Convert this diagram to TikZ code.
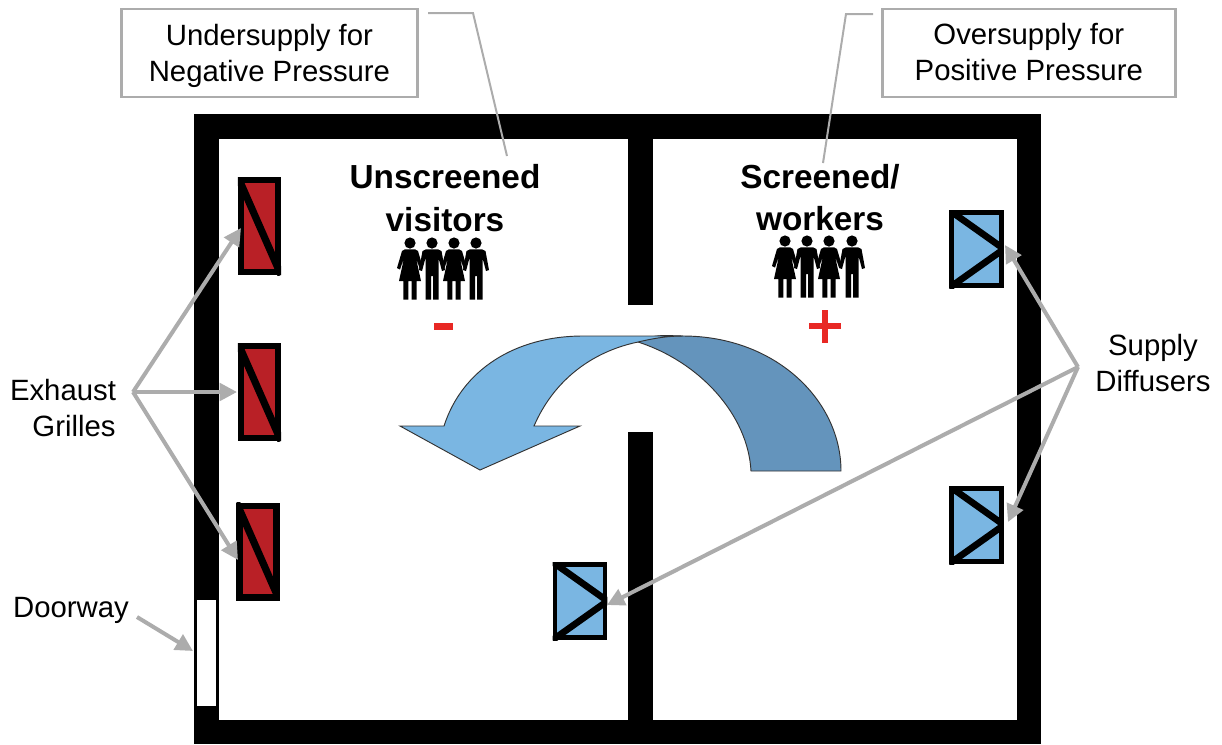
\documentclass[tikz,border=0pt]{standalone}
\usepackage{fontspec}
\setmainfont{Liberation Sans}
\usetikzlibrary{arrows.meta}
\definecolor{grilleRed}{RGB}{185,32,38}
\definecolor{diffBlue}{RGB}{122,182,226}
\definecolor{darkBlue}{RGB}{100,148,188}
\definecolor{calloutGray}{RGB}{172,172,172}
\definecolor{signRed}{RGB}{232,40,36}
\newcommand{\dn}[2]{\strut\smash{\raisebox{-#1}{#2}}}
\tikzset{
 px/.style={x=0.75pt,y=-0.75pt},
 wall/.style={fill=black,draw=none},
 callbox/.style={draw=calloutGray,line width=2.2pt,fill=white,minimum width=222pt,minimum height=66pt,inner sep=0pt,align=center,font=\fontsize{22}{27}\selectfont,anchor=north west},
 callline/.style={draw=calloutGray,line width=1.5pt},
 pointer/.style={draw=calloutGray,line width=3pt,line join=round,-{Triangle[length=13pt,width=13pt]}},
 grille/.style={draw=black,fill=grilleRed,line width=4.8pt,minimum width=27.5pt,minimum height=68.7pt,inner sep=0pt},
 diffuser/.style={draw=black,fill=diffBlue,line width=3.6pt,minimum width=37.6pt,minimum height=54.9pt,inner sep=0pt},
 labeltext/.style={font=\fontsize{22}{26.5}\selectfont,align=center},
 roomtext/.style={font=\bfseries\fontsize{25}{32}\selectfont,align=center},
 roomtextb/.style={font=\bfseries\fontsize{25}{31.5}\selectfont,align=center},
 sign/.style={fill=signRed,draw=none},
 flowpart/.style={draw=black!80,line width=0.7pt}
}
\newcommand{\womanfig}[2]{%
 \begin{scope}[shift={(#1,#2)}]
 \fill (0,0) circle (5.6);
 \fill (-5,6.3) -- (5,6.3) -- (8,8) -- (13,25) -- (10,26.5) -- (6,15) -- (11,38) -- (6.7,38) -- (6.7,56.5) -- (1.7,56.5) -- (1.7,38) -- (-1.7,38) -- (-1.7,56.5) -- (-6.7,56.5) -- (-6.7,38) -- (-11,38) -- (-6,15) -- (-10,26.5) -- (-13,25) -- (-8,8) -- cycle;
 \end{scope}}
\newcommand{\manfig}[2]{%
 \begin{scope}[shift={(#1,#2)}]
 \fill (0,0) circle (5.6);
 \fill (-6,6.3) -- (6,6.3) -- (9.5,8) -- (13,27) -- (10,28) -- (6.5,15) -- (6.5,56.5) -- (1,56.5) -- (1,33) -- (-1,33) -- (-1,56.5) -- (-6.5,56.5) -- (-6.5,15) -- (-10,28) -- (-13,27) -- (-9.5,8) -- cycle;
 \end{scope}}
\begin{document}
\begin{tikzpicture}[px]
\useasboundingbox (0,0) rectangle (1222,744);
% walls
\fill[wall] (194,114) rectangle (1041,744);
\fill[white] (219,139) rectangle (628,720);
\fill[white] (653,139) rectangle (1017,720);
\fill[white] (628,305) rectangle (653,432);
% doorway
\node[fill=white,minimum width=14.2pt,minimum height=79.5pt,inner sep=0pt] (door) at (206.5,653) {};
% flow arrow
\path[fill=darkBlue,flowpart] (638,342) .. controls (655,333) and (668,336) .. (683,336) .. controls (775,336) and (841,400) .. (841,471) -- (751,471) .. controls (748,415) and (700,362) .. (638,342) -- cycle;
\path[fill=diffBlue,flowpart] (683,336) -- (583,336) .. controls (515,336) and (462,370) .. (444,426) -- (400,426) -- (480,470) -- (580,426) -- (534,426) .. controls (553,382) and (590,352) .. (638,342) .. controls (655,338) and (668,336) .. (683,336) -- cycle;
% callouts
\node[callbox] (under) at (120,7.5) {\dn{2.8pt}{Undersupply for}\\\dn{2.8pt}{Negative Pressure}};
\node[callbox,minimum width=219.5pt] (over) at (881,7.5) {\dn{2pt}{Oversupply for}\\\dn{2pt}{Positive Pressure}};
\coordinate (underEnd) at (507,156);
\coordinate (overEnd) at (823,163);
\draw[callline] (428,13) -- (473,13) -- (underEnd);
\draw[callline] (873,14) -- (846,14) -- (overEnd);
% room text
\node[roomtext] (unscreened) at (445,201.5) {\strut Unscreened\\\strut visitors};
\node[roomtextb] (screened) at (820,201.5) {\strut Screened/\\\strut workers};
% people
\womanfig{410}{243}\manfig{432}{243}\womanfig{454}{243}\manfig{476}{243}
\womanfig{785}{241}\manfig{807}{241}\womanfig{829}{241}\manfig{852}{241}
% signs
\fill[sign] (434,323) rectangle (453,330);
\fill[sign] (809,323) rectangle (841,329);
\fill[sign] (822,310) rectangle (828,343);
% grilles
\foreach \n/\cx/\cy in {g1/259.5/226,g2/259.5/392,g3/258/551.5}{
 \node[grille] (\n) at (\cx,\cy) {};
 \begin{scope}
 \clip (\n.north west) rectangle (\n.south east);
 \draw[line width=5.4pt] (\n.north west) -- (\n.south east);
 \end{scope}
}
% diffusers
\foreach \n/\cx/\cy in {d1/976.5/249,d2/976.5/525,d3/580/601}{
 \node[diffuser] (\n) at (\cx,\cy) {};
 \begin{scope}
 \clip (\n.north west) rectangle (\n.south east);
 \draw[line width=5pt] (\n.north west) -- (\n.east) -- (\n.south west);
 \end{scope}
}
% labels
\node[labeltext] (exhaust) at (63,408) {Exhaust\\\hspace*{16.5pt}Grilles};
\node[labeltext] (supply) at (1153,363) {Supply\\Diffusers};
\node[labeltext] (doorway) at (71,610) {Doorway};
\coordinate (ex) at (133,392);
\coordinate (su) at (1078,367);
\draw[pointer] (ex) -- (241,228);
\draw[pointer] (ex) -- (237,392);
\draw[pointer] (ex) -- (238,560);
\draw[pointer] (su) -- (1005,245);
\draw[pointer] (su) -- (1008,522);
\draw[pointer] (su) -- (607,605);
\coordinate (doorTip) at (193,651);
\draw[pointer] (137,617) -- (doorTip);
\end{tikzpicture}
\end{document}
